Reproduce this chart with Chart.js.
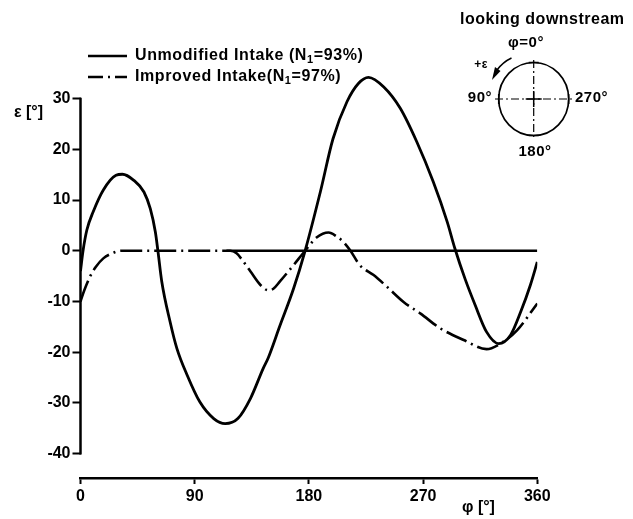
<!DOCTYPE html>
<html><head><meta charset="utf-8">
<script src="https://cdn.jsdelivr.net/npm/chart.js@4/dist/chart.umd.min.js"></script>
<style>html,body{margin:0;padding:0;background:#fff;}</style>
</head><body>
<canvas id="c" width="633" height="519" style="width:633px;height:519px;display:block"></canvas>
<script>
// ---- data ----
const unmodifiedPhi = [0, 2, 5, 10, 18, 28, 33, 42, 50, 55, 59, 61, 64, 70.6, 76, 84, 94, 105, 114, 124, 134, 144, 148, 157, 168, 177, 189, 199, 210, 219, 227, 239, 252, 265, 278, 289, 295, 303, 311, 320, 329.5, 339, 347, 354.5, 360];
const unmodifiedEps = [-4, 0, 4.1, 7.7, 12, 14.9, 15.1, 13.9, 11.6, 8.3, 3.7, 0, -6, -14, -19.3, -24.5, -29.8, -33.1, -34.1, -33.1, -29.1, -23.2, -21.1, -14.9, -7.4, 0, 11.6, 22.1, 29.4, 33, 34.2, 32.3, 28.1, 21.5, 13.6, 5.7, 0.5, -5.5, -10.7, -16, -18.3, -16.6, -12, -6.8, -2.2];
const improvedPhi = [0, 3, 7.5, 12, 18, 25, 32, 118, 123, 128, 134, 142, 148, 152, 157, 168, 177, 186, 195.5, 202, 207, 212.5, 220, 231, 241.5, 254.6, 268, 283.5, 302, 320, 331, 344, 360];
const improvedEps = [-10, -7.8, -5.1, -3.2, -1.5, -0.5, 0, 0, -0.5, -2, -4.1, -6.8, -7.8, -7.5, -6.1, -2.8, 0, 2.6, 3.6, 2.8, 1.8, 0.1, -2.8, -4.8, -7.1, -10.1, -12.4, -15.3, -17.6, -19.4, -18.3, -15.7, -10.4];
const zeroPhi = [115, 360];
const zeroEps = [0, 0];
const xTicks = [0, 90, 180, 270, 360];
const yTicks = [-40, -30, -20, -10, 0, 10, 20, 30];
const seriesNames = ['Unmodified Intake (N', 'Improved Intake(N'];
const seriesSuffix = ['=93%)', '=97%)'];

const FONT = '"Liberation Sans", Arial, sans-serif';
const pts = (xs, ys) => xs.map((x, i) => ({x, y: ys[i]}));
const DASH = [22, 5, 2, 5];

const decor = {
  id: 'decor',
  afterDraw(chart) {
    const ctx = chart.ctx, y = chart.scales.y, ca = chart.chartArea;
    ctx.save();
    ctx.strokeStyle = '#000'; ctx.fillStyle = '#000';
    // y axis line from top tick to bottom tick
    ctx.lineWidth = 2.5;
    ctx.beginPath();
    ctx.moveTo(ca.left, y.getPixelForValue(yTicks[yTicks.length-1]) - 1);
    ctx.lineTo(ca.left, y.getPixelForValue(yTicks[0]) + 1);
    ctx.stroke();
    // axis titles
    ctx.font = 'bold 16px ' + FONT;
    ctx.textBaseline = 'middle';
    ctx.textAlign = 'left';
    ctx.fillText('ε [°]', 14, 113);
    ctx.fillText('φ [°]', 462, 508);
    // legend
    const rows = [56, 77];
    chart.data.datasets.slice(0, 2).forEach((ds, i) => {
      ctx.lineWidth = 2.5;
      ctx.setLineDash(i === 0 ? [] : [15, 5, 2, 5]);
      ctx.beginPath(); ctx.moveTo(88, rows[i]); ctx.lineTo(127, rows[i]); ctx.stroke();
      ctx.setLineDash([]);
      ctx.letterSpacing = '0.6px';
      ctx.font = 'bold 16px ' + FONT;
      let tx = 135;
      ctx.fillText(seriesNames[i], tx, rows[i]);
      tx += ctx.measureText(seriesNames[i]).width;
      ctx.font = 'bold 11px ' + FONT;
      ctx.fillText('1', tx, rows[i] + 4);
      tx += ctx.measureText('1').width;
      ctx.font = 'bold 16px ' + FONT;
      ctx.fillText(seriesSuffix[i], tx, rows[i]);
    });
    // inset
    const cx = 533.7, cy = 99;
    ctx.font = 'bold 16px ' + FONT;
    ctx.letterSpacing = '0.5px';
    ctx.textAlign = 'left';
    ctx.fillText('looking downstream', 460, 20);
    ctx.letterSpacing = '0px';
    ctx.lineWidth = 1.7;
    ctx.beginPath(); ctx.ellipse(cx, cy, 35, 36.5, 0, 0, Math.PI*2); ctx.stroke();
    ctx.lineWidth = 1.2;
    ctx.setLineDash([8, 3, 2, 3]);
    ctx.beginPath(); ctx.moveTo(495, cy); ctx.lineTo(573, cy); ctx.stroke();
    ctx.beginPath(); ctx.moveTo(cx, 60); ctx.lineTo(cx, 138); ctx.stroke();
    ctx.setLineDash([]);
    ctx.lineWidth = 1.5;
    ctx.beginPath();
    ctx.moveTo(cx - 8, cy); ctx.lineTo(cx + 8, cy);
    ctx.moveTo(cx, cy - 8); ctx.lineTo(cx, cy + 8);
    ctx.moveTo(cx - 35, cy - 5); ctx.lineTo(cx - 35, cy + 5);
    ctx.moveTo(cx + 35, cy - 5); ctx.lineTo(cx + 35, cy + 5);
    ctx.moveTo(cx - 5, cy - 36.5); ctx.lineTo(cx + 5, cy - 36.5);
    ctx.moveTo(cx - 5, cy + 36.5); ctx.lineTo(cx + 5, cy + 36.5);
    ctx.stroke();
    // arrow
    ctx.lineWidth = 1.5;
    ctx.beginPath(); ctx.moveTo(511.5, 58); ctx.quadraticCurveTo(503, 62, 497, 70); ctx.stroke();
    ctx.beginPath(); ctx.moveTo(492, 80); ctx.lineTo(495, 67); ctx.lineTo(500.5, 71); ctx.closePath(); ctx.fill();
    ctx.font = 'bold 15px ' + FONT;
    ctx.letterSpacing = '0.5px';
    ctx.textAlign = 'center';
    ctx.fillText('φ=0°', 526, 43);
    ctx.fillText('180°', 535, 152);
    ctx.textAlign = 'right';
    ctx.fillText('90°', 492, 98);
    ctx.textAlign = 'left';
    ctx.fillText('270°', 575, 98);
    ctx.font = 'bold 12px ' + FONT;
    ctx.textAlign = 'center';
    ctx.fillText('+ε', 481, 65);
    ctx.restore();
  }
};

new Chart(document.getElementById('c'), {
  type: 'scatter',
  data: {
    datasets: [
      { label: 'Unmodified Intake (N1=93%)', data: pts(unmodifiedPhi, unmodifiedEps), showLine: true, borderColor: '#000', borderWidth: 2.8, pointRadius: 0, cubicInterpolationMode: 'monotone', fill: false },
      { label: 'Improved Intake (N1=97%)', data: pts(improvedPhi, improvedEps), showLine: true, borderColor: '#000', borderWidth: 2.6, borderDash: DASH, pointRadius: 0, cubicInterpolationMode: 'monotone', fill: false },
      { label: 'zero', data: pts(zeroPhi, zeroEps), showLine: true, borderColor: '#000', borderWidth: 2.5, pointRadius: 0, fill: false }
    ]
  },
  options: {
    responsive: false, animation: false, devicePixelRatio: 1,
    layout: { padding: { left: 40.5, top: 68.3, right: 95.7, bottom: 11 } },
    plugins: { legend: { display: false }, tooltip: { enabled: false } },
    scales: {
      x: {
        type: 'linear', min: 0, max: 360,
        afterBuildTicks: s => { s.ticks = xTicks.map(v => ({ value: v })); },
        afterFit: s => { s.height = 30; },
        border: { display: true, color: '#000', width: 2.5 },
        grid: { drawOnChartArea: false, drawTicks: true, tickLength: 6, tickColor: '#000', tickWidth: 2 },
        ticks: { color: '#000', padding: 3, maxRotation: 0, font: { family: FONT, size: 16, weight: 'bold' } }
      },
      y: {
        type: 'linear', min: -44.83, max: 36,
        afterBuildTicks: s => { s.ticks = yTicks.map(v => ({ value: v })); },
        afterFit: s => { s.width = 40; },
        border: { display: false },
        grid: { drawOnChartArea: false, drawTicks: true, tickLength: 8, tickColor: '#000', tickWidth: 2 },
        ticks: { color: '#000', padding: 2, font: { family: FONT, size: 16, weight: 'bold' } }
      }
    }
  },
  plugins: [decor]
});
</script>
</body></html>
